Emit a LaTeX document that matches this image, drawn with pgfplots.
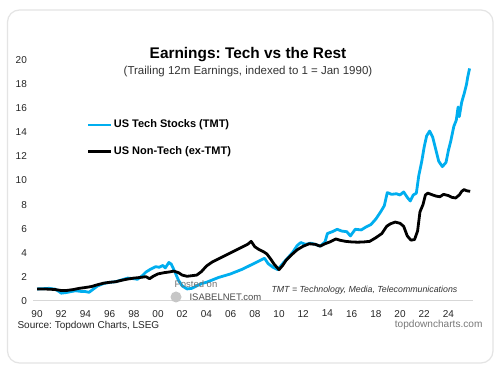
\documentclass[border=0pt]{standalone}
\usepackage{pgfplots}
\pgfplotsset{compat=1.18}
\usepackage{fontspec}
\setmainfont{Liberation Sans}
\frenchspacing
\definecolor{techblue}{RGB}{0,174,239}
\definecolor{axgray}{RGB}{215,215,215}
\definecolor{txtgray}{RGB}{120,120,120}
\definecolor{boxgray}{RGB}{228,228,228}

\pgfplotstableread{
year val
1990.0 1.00
1990.5 1.02
1991.0 1.05
1991.5 0.98
1991.8 0.80
1992.0 0.65
1992.4 0.70
1992.8 0.78
1993.2 0.85
1993.6 0.80
1994.0 0.78
1994.3 0.72
1994.6 0.95
1995.0 1.25
1995.5 1.45
1996.0 1.55
1996.5 1.60
1997.0 1.75
1997.5 1.90
1998.0 1.85
1998.3 1.80
1998.7 2.10
1999.0 2.40
1999.4 2.65
1999.8 2.85
2000.1 2.80
2000.4 2.95
2000.6 2.75
2000.9 3.20
2001.1 3.05
2001.4 2.40
2001.7 1.70
2002.0 1.25
2002.4 1.00
2002.8 1.05
2003.2 1.25
2003.6 1.45
2004.0 1.55
2004.5 1.75
2005.0 1.95
2005.5 2.10
2006.0 2.25
2006.5 2.45
2007.0 2.65
2007.5 2.90
2008.0 3.15
2008.5 3.40
2008.8 3.55
2009.1 3.10
2009.5 2.80
2009.9 2.60
2010.3 3.10
2010.7 3.55
2011.1 4.00
2011.5 4.60
2011.8 4.85
2012.2 4.70
2012.6 4.80
2013.0 4.70
2013.4 4.55
2013.8 4.90
2014.0 5.60
2014.4 5.75
2014.8 5.95
2015.2 5.80
2015.6 5.75
2015.9 5.40
2016.3 5.95
2016.8 5.90
2017.2 6.15
2017.6 6.35
2018.0 6.80
2018.4 7.40
2018.7 7.90
2018.95 9.00
2019.3 8.85
2019.7 8.90
2020.0 8.80
2020.3 9.05
2020.6 8.60
2020.85 8.30
2021.1 8.80
2021.35 8.95
2021.55 10.40
2021.8 11.60
2022.0 12.80
2022.2 13.70
2022.45 14.10
2022.7 13.60
2022.95 12.60
2023.2 11.60
2023.5 11.15
2023.8 11.50
2024.0 12.50
2024.2 13.30
2024.45 14.50
2024.65 15.00
2024.8 16.10
2024.9 15.30
2025.1 16.50
2025.3 17.20
2025.5 18.00
2025.6 18.60
2025.75 19.30
}\techtable

\pgfplotstableread{
year val
1990.0 1.00
1990.5 1.00
1991.0 0.98
1991.5 0.95
1992.0 0.87
1992.5 0.88
1993.0 0.95
1993.5 1.05
1994.0 1.12
1994.5 1.20
1995.0 1.35
1995.5 1.48
1996.0 1.55
1996.5 1.60
1997.0 1.72
1997.5 1.82
1998.0 1.90
1998.5 1.95
1999.0 2.02
1999.3 1.85
1999.6 2.05
2000.0 2.25
2000.5 2.35
2001.0 2.42
2001.3 2.48
2001.7 2.35
2002.0 2.15
2002.4 2.05
2002.8 2.10
2003.2 2.15
2003.6 2.45
2004.0 2.90
2004.5 3.25
2005.0 3.50
2005.5 3.75
2006.0 4.00
2006.5 4.25
2007.0 4.50
2007.4 4.70
2007.7 4.95
2008.0 4.50
2008.3 4.30
2008.7 4.10
2009.0 3.90
2009.3 3.50
2009.6 3.05
2010.0 2.60
2010.3 2.95
2010.6 3.40
2011.0 3.80
2011.5 4.25
2012.0 4.55
2012.5 4.75
2013.0 4.70
2013.4 4.55
2013.8 4.75
2014.2 4.90
2014.7 5.15
2015.0 5.05
2015.5 4.95
2016.0 4.90
2016.5 4.88
2017.0 4.90
2017.5 4.95
2018.0 5.25
2018.5 5.60
2018.9 6.20
2019.2 6.40
2019.6 6.55
2020.0 6.45
2020.3 6.20
2020.6 5.40
2020.9 5.05
2021.2 5.10
2021.45 5.80
2021.65 7.40
2021.9 8.00
2022.1 8.80
2022.3 8.95
2022.7 8.80
2023.0 8.70
2023.3 8.65
2023.6 8.85
2024.0 8.75
2024.3 8.60
2024.6 8.55
2024.9 8.80
2025.1 9.10
2025.3 9.25
2025.5 9.15
2025.8 9.10
}\nontechtable

\begin{document}
\begin{tikzpicture}[x=1pt,y=1pt]
\path[use as bounding box] (0,0) rectangle (500,371);
\fill[white] (0,0) rectangle (500,371);
\draw[boxgray, line width=1.2pt, rounded corners=12pt] (7.5,8) rectangle (493,361);

\node[font=\fontsize{15.4}{18}\selectfont\bfseries] at (248,316) {Earnings: Tech vs the Rest};
\node[font=\fontsize{11.5}{13}\selectfont, text=black!80] at (248,299) {(Trailing 12m Earnings, indexed to 1 = Jan 1990)};

\begin{axis}[
  at={(33.4pt,70pt)}, anchor=south west,
  scale only axis, width=439.2pt, height=241pt,
  xmin=1989.7, xmax=2026.0, ymin=0, ymax=20,
  axis lines=left, axis line style={-},
  x axis line style={axgray, line width=1pt},
  y axis line style={draw=none},
  major tick length=0pt,
  xtick={1990,1992,...,2024},
  xticklabels={90,92,94,96,98,00,02,04,06,08,10,12,14,16,18,20,22,24},
  ytick={0,2,...,20},
  /pgf/number format/assume math mode=true,
  tick label style={font=\fontsize{10}{12}\selectfont, text=black!85},
  xticklabel style={yshift=-5.5pt},
  yticklabel style={xshift=-3pt},
  clip=false,
  legend style={draw=none, fill=none, at={(axis cs:1994.11,15.06)}, anchor=north west,
    font=\fontsize{11}{13}\selectfont\bfseries, inner sep=0pt, row sep=16pt,
    column sep=1.5pt, nodes={inner sep=0pt, text height=8pt, text depth=2.5pt}},
  legend cell align=left,
  legend image code/.code={\draw[#1, line width=2.4pt] (0pt,0pt) -- (23pt,0pt);},
]
\addplot[techblue, line width=2.8pt, line join=round] table[x=year, y=val] {\techtable};
\addlegendentry{US Tech Stocks (TMT)}
\addplot[black, line width=2.8pt, line join=round] table[x=year, y=val] {\nontechtable};
\addlegendentry{US Non-Tech (ex-TMT)}
\end{axis}

\node[anchor=west, font=\fontsize{8.8}{10}\selectfont\itshape, text=black!80] at (268,81) {TMT = Technology, Media, Telecommunications};
\node[anchor=west, font=\fontsize{9.5}{10}\selectfont, text=black!55] at (171,87) {Posted on};
\fill[gray!45] (176,74) circle (5.5);
\node[anchor=west, font=\fontsize{9.5}{10}\selectfont, text=black!70] at (186,74) {ISABELNET.com};
\node[anchor=west, font=\fontsize{10}{12}\selectfont, text=black!85] at (14,45.5) {Source: Topdown Charts, LSEG};
\node[anchor=east, font=\fontsize{10.1}{12}\selectfont, text=txtgray] at (486,46) {topdowncharts.com};
\end{tikzpicture}
\end{document}
